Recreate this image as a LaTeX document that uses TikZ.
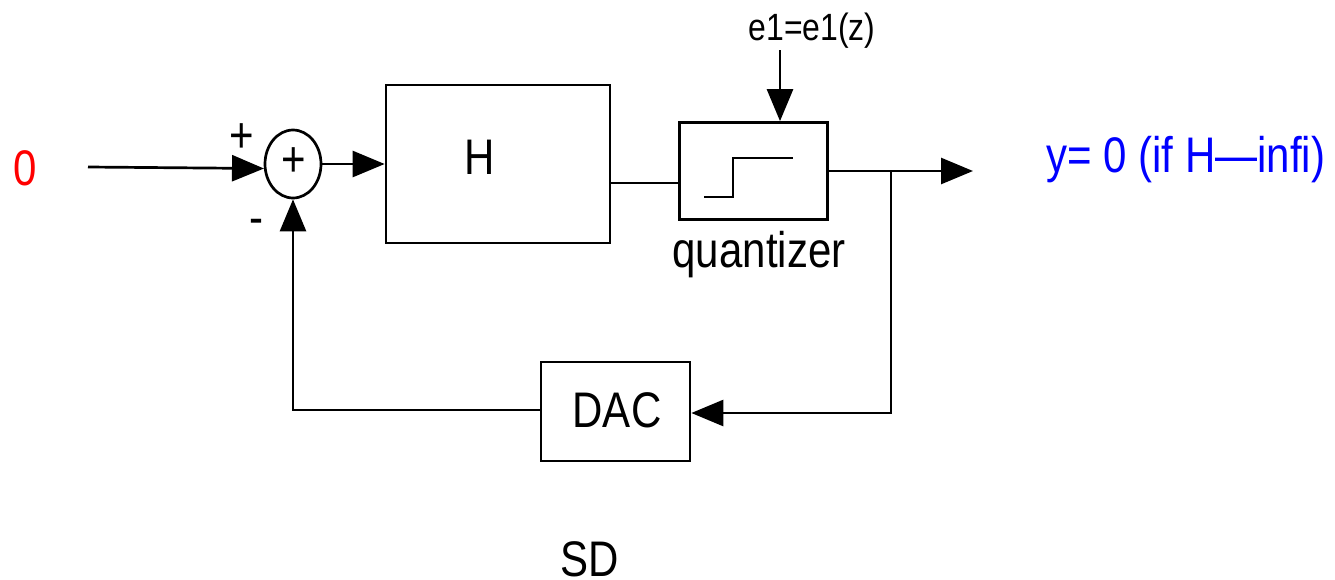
\documentclass[tikz,border=0pt]{standalone}
\usepackage{fontspec}
\setmainfont{Liberation Sans}[FakeStretch=0.84]
\usetikzlibrary{shapes.geometric,arrows.meta}
\begin{document}
\begin{tikzpicture}[x=1pt,y=-1pt,
  line width=2.7pt,
  arr/.style={-{Triangle[length=32pt,width=26pt]}},
  blk/.style={draw,rectangle,inner sep=0pt},
  txt/.style={inner sep=0pt,font=\fontsize{50}{54}\selectfont},
  small/.style={inner sep=0pt,font=\fontsize{38}{42}\selectfont}]
\useasboundingbox (0,0) rectangle (1335,579);
% blocks
\node[draw,ellipse,minimum width=56pt,minimum height=68pt,inner sep=0pt] (sum) at (293,164) {};
\node[txt] (plus) at (294,162) {+};
\node[blk,minimum width=224pt,minimum height=158pt] (H) at (498,164) {};
\node[txt] (Hl) at (480,157) {H};
\node[blk,minimum width=148pt,minimum height=97pt] (Q) at (753.5,171) {};
\node[blk,minimum width=149pt,minimum height=99pt] (DAC) at (615.5,411.5) {};
\node[txt] (DACl) at (617,410) {DAC};
% step
\draw (704,197) -- (733,197) -- (733,158) -- (793,158);
% labels
\node[txt,text=red] (zero) at (25,168) {0};
\node[txt] (pl) at (242,138) {+};
\node[txt] (mi) at (256,227) {-};
\node[small] (e1) at (812,31) {e1=e1(z)};
\node[txt] (ql) at (759,255) {quantizer};
\node[txt,text=blue,anchor=west] (y) at (1045,160) {y= 0 (if H—infi)};
\node[txt] (SD) at (590,559) {SD};
% coordinates
\coordinate (in) at (88,167);
\coordinate (out) at (973,171);
\coordinate (br) at (891,171);
\coordinate (e1s) at (780,50);
% connectors
\draw[arr] (in) -- (264,168.5);
\draw[arr] (sum.east) -- (sum.east -| H.west);
\draw ([yshift=-19pt]H.east) -- ([yshift=-19pt]H.east -| Q.west);
\draw[arr] (Q.east) -- (out);
\draw[arr] (br) |- ([yshift=-1.5pt]DAC.east);
\draw[arr] ([yshift=1.5pt]DAC.west) -| (sum.south);
\draw[arr] (e1s) -- (e1s |- Q.north);
\end{tikzpicture}
\end{document}
